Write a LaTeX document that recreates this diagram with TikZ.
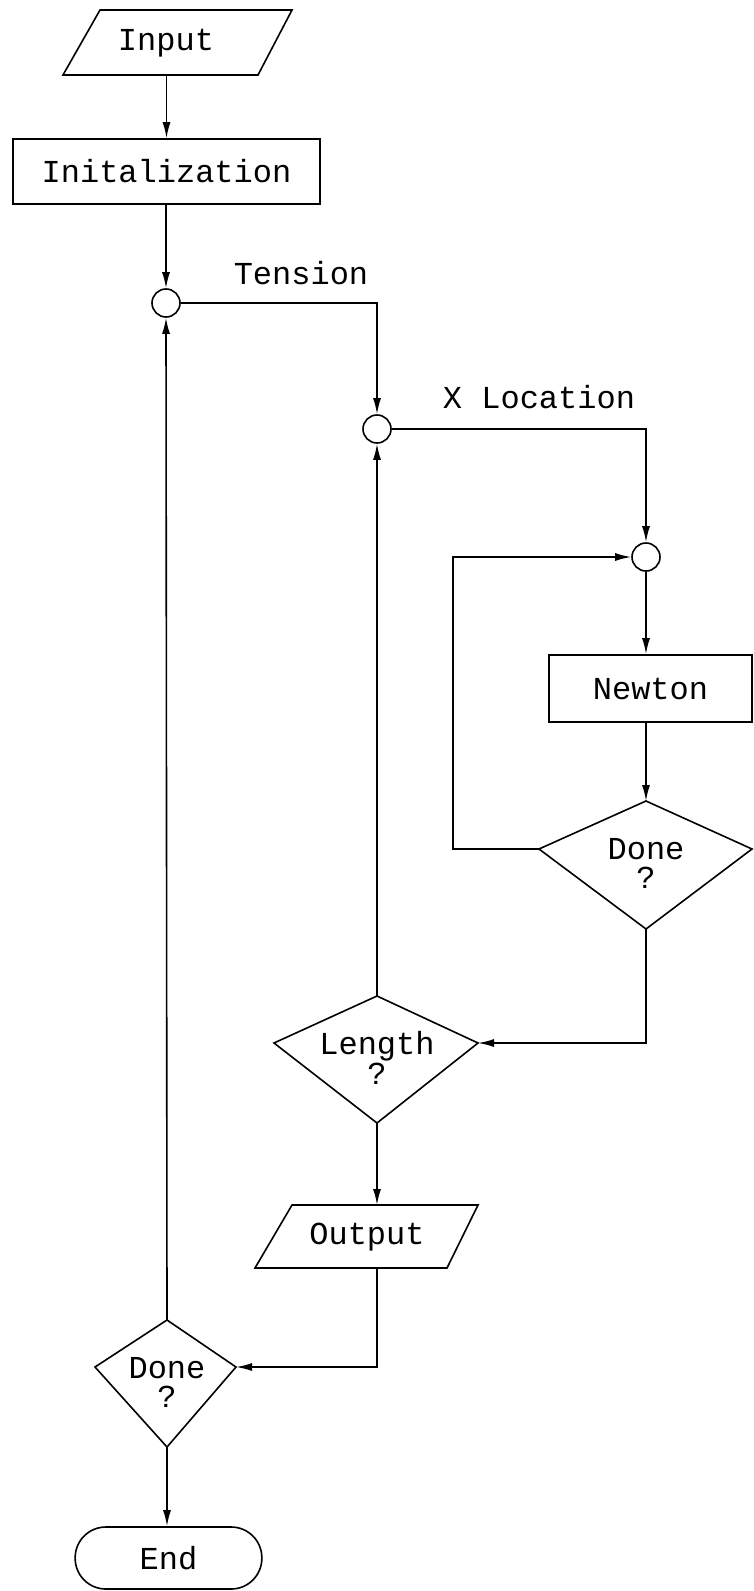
\documentclass[tikz,border=0pt]{standalone}
\usepackage{fontspec}
\setmainfont{Liberation Mono}
\usetikzlibrary{arrows.meta}
\begin{document}
\begin{tikzpicture}[x=0.75pt,y=-0.75pt,line width=1.2pt,line join=miter,
  every node/.style={font=\fontsize{24}{22}\selectfont},
  arr/.style={-{Latex[length=12pt,width=6pt]}},
  boxnode/.style={draw,inner sep=0pt},
  junction/.style={draw,circle,minimum size=21pt,inner sep=0pt},
  txt/.style={inner sep=0pt,align=center}]
\useasboundingbox (0,0) rectangle (753,1591);

% Input parallelogram
\coordinate (inBL) at (63,75);
\coordinate (inBR) at (258,75);
\coordinate (inTR) at (292,10);
\coordinate (inTL) at (100,10);
\draw (inTL) -- (inTR) -- (inBR) -- (inBL) -- cycle;
\node[txt] (input) at (166,43) {Input};

% Initialization
\node[boxnode,minimum width=230.25pt,minimum height=48.75pt] (init) at (166.5,171.5) {Initalization};

% junctions
\node[junction] (c1) at (166,303) {};
\node[junction] (c2) at (377,429) {};
\node[junction] (c3) at (646,557) {};

\node[txt] (tension) at (301,273) {Tension};
\node[txt] (xloc) at (539,397) {X Location};

% Newton
\node[boxnode,minimum width=152pt,minimum height=50.25pt] (newton) at (650.5,688.5) {Newton};

% Done diamond 1
\coordinate (d1n) at (646,801);
\coordinate (d1w) at (539,849);
\coordinate (d1e) at (752,849);
\coordinate (d1s) at (646,929);
\draw (d1n) -- (d1e) -- (d1s) -- (d1w) -- cycle;
\node[txt] (done1) at (646,863.5) {Done\\?};

% Length diamond
\coordinate (d2n) at (377,996);
\coordinate (d2w) at (274,1043);
\coordinate (d2e) at (478,1043);
\coordinate (d2s) at (377,1123);
\draw (d2n) -- (d2e) -- (d2s) -- (d2w) -- cycle;
\node[txt] (length) at (377,1058) {Length\\?};

% Output parallelogram
\coordinate (outTL) at (292,1205);
\coordinate (outTR) at (478,1205);
\coordinate (outBR) at (447,1268);
\coordinate (outBL) at (255,1268);
\draw (outTL) -- (outTR) -- (outBR) -- (outBL) -- cycle;
\node[txt] (output) at (367,1237) {Output};

% Done diamond 2
\coordinate (d3n) at (167,1320);
\coordinate (d3w) at (95,1367);
\coordinate (d3e) at (236,1367);
\coordinate (d3s) at (167,1447);
\draw (d3n) -- (d3e) -- (d3s) -- (d3w) -- cycle;
\node[txt] (done2) at (167,1382.5) {Done\\?};

% End
\node[draw,rounded corners=23pt,minimum width=140pt,minimum height=46.5pt,inner sep=0pt] (end) at (168.5,1558) {End};

% loop corner
\coordinate (loop) at (453,559);

% connectors
\draw[arr] (init.north |- inBL) -- (init.north);
\draw[arr] (init.south -| c1) -- (c1.north);
\draw[arr] (c1.east) -| (c2.north);
\draw[arr] (c2.east) -| (c3.north);
\draw[arr] (c3.south) -- (c3.south |- newton.north);
\draw[arr] (d1n |- newton.south) -- (d1n);
\draw[arr] (d1w) -- (d1w -| loop) |- (c3.west);
\draw[arr] (d1s) |- (d2e);
\draw[arr] (d2n) -- (c2.south);
\draw[arr] (d2s) -- (d2s |- outTL);
\draw[arr] (d2s |- outBL) |- (d3e);
\draw[arr] (d3n) -- (c1.south);
\draw[arr] (d3s) -- (d3s |- end.north);
\end{tikzpicture}
\end{document}
